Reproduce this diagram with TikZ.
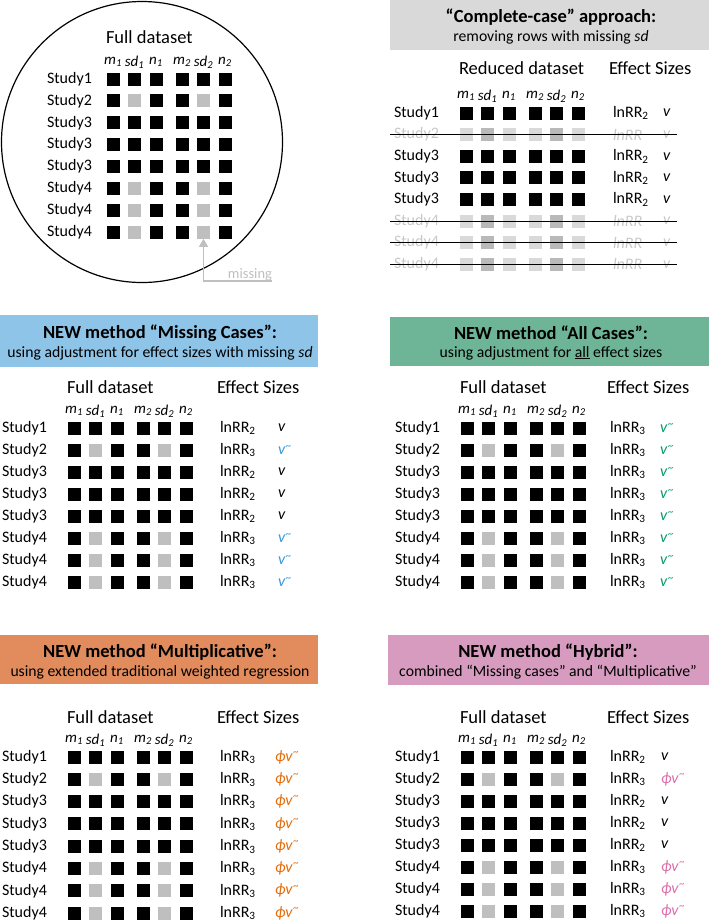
\documentclass[tikz,border=0pt]{standalone}
\usepackage{fontspec}
\setmainfont{Carlito}
\usetikzlibrary{arrows.meta, positioning}

\definecolor{ccgray}{RGB}{217,217,217}
\definecolor{mcblue}{RGB}{142,196,232}
\definecolor{acgreen}{RGB}{110,180,150}
\definecolor{muorange}{RGB}{226,139,93}
\definecolor{hypink}{RGB}{214,155,190}
\definecolor{vblue}{RGB}{52,152,219}
\definecolor{vgreen}{RGB}{0,155,105}
\definecolor{vorange}{RGB}{228,108,10}
\definecolor{vpink}{RGB}{220,110,170}
\definecolor{misgray}{RGB}{191,191,191}
\definecolor{fadelight}{RGB}{217,217,217}
\definecolor{fademid}{RGB}{185,185,185}
\definecolor{fadetext}{RGB}{200,200,200}

\newcommand{\vtil}{\textit{v}\kern0.3pt\raisebox{0.75ex}{\fontsize{11}{11}\selectfont\textasciitilde}}
\newcommand{\phivtil}{\textit{ϕv}\kern0.3pt\raisebox{0.75ex}{\fontsize{11}{11}\selectfont\textasciitilde}}

\begin{document}
\begin{tikzpicture}[x=1pt, y=-1pt,
    every node/.style={inner sep=0pt, outer sep=0pt},
    sqcell/.style={minimum size=13pt, fill=black},
    celln00/.style={sqcell}, celln01/.style={sqcell},
    celln10/.style={sqcell}, celln11/.style={sqcell, fill=misgray},
    cellf00/.style={sqcell}, cellf01/.style={sqcell},
    cellf10/.style={sqcell, fill=fadelight}, cellf11/.style={sqcell, fill=fademid},
    study/.style={anchor=west, font=\fontsize{16}{19}\selectfont},
    studyn0/.style={study}, studyn1/.style={study},
    studyf0/.style={study}, studyf1/.style={study, text=fadetext},
    colhead/.style={font=\fontsize{15}{17}\selectfont\itshape},
    settitle/.style={anchor=west, font=\fontsize{18.5}{21}\selectfont},
    esize/.style={anchor=west, font=\fontsize{16}{19}\selectfont},
    headbox/.style={minimum height=50pt},
    headtitle/.style={font=\fontsize{18.5}{21}\selectfont\bfseries},
    headsub/.style={font=\fontsize{15.7}{18}\selectfont},
    strike/.style={line width=0.9pt},
    misline/.style={draw=misgray, line width=1.5pt, -{Triangle[width=9pt, length=8pt]}}
  ]
  \useasboundingbox (0,0) rectangle (709,922);

  % circle round the full dataset
  \node[circle, draw, line width=1.2pt, minimum size=281pt] (A-ring) at (142,142) {};

  % header boxes
  \node[headbox, fill=ccgray, minimum width=319pt] (B-box) at (549.5,25) {};
  \node[headtitle] (B-title) at (551,17) {“Complete-case” approach:};
  \node[headsub] (B-sub) at (551,37) {removing rows with missing \textit{sd}};

  \node[headbox, fill=mcblue, minimum width=318pt, minimum height=52pt] (C-box) at (159,341) {};
  \node[headtitle] (C-title) at (160,333) {NEW method “Missing Cases”:};
  \node[headsub] (C-sub) at (160,353) {using adjustment for effect sizes with missing \textit{sd}};

  \node[headbox, fill=acgreen, minimum width=319pt, minimum height=49pt] (D-box) at (549.5,341.5) {};
  \node[headtitle] (D-title) at (551,333) {NEW method “All Cases”:};
  \node[headsub] (D-sub) at (551,353) {using adjustment for \underline{all} effect sizes};

  \node[headbox, fill=muorange, minimum width=318pt, minimum height=49pt] (E-box) at (159,659.5) {};
  \node[headtitle] (E-title) at (160,652) {NEW method “Multiplicative”:};
  \node[headsub] (E-sub) at (160,672) {using extended traditional weighted regression};

  \node[headbox, fill=hypink, minimum width=321pt] (F-box) at (548.5,660) {};
  \node[headtitle] (F-title) at (548,652) {NEW method “Hybrid”:};
  \node[headsub] (F-sub) at (548,672) {combined “Missing cases” and “Multiplicative”};

  % datasets: squares, column heads, study labels
  \foreach \p/\x/\y/\dy/\q/\lx/\t/\ty in {A/113/79/21.9/n/47/Full dataset/37,
      B/466/113/21.6/f/394/Reduced dataset/68, C/74/428/22/n/2/Full dataset/387,
      D/467/428/22/n/395/Full dataset/387, E/74/757/22.3/n/2/Full dataset/717,
      F/467/757/22/n/395/Full dataset/717} {
    \node[settitle] (\p-set) at (\x-7,\ty) {\t};
    \foreach \c/\dx/\h in {1/0/m, 2/21.5/sd, 3/43/n, 4/69/m, 5/90.5/sd, 6/112/n} {
      \pgfmathtruncatemacro\g{\c>3 ? 2 : 1}
      \node[colhead] (\p-h\c) at (\x+\dx,\y-17) {\h\textsubscript{\g}};
      \foreach \r in {1,...,8} {
        \pgfmathtruncatemacro\gap{(\r==2 || \r>5)}
        \pgfmathtruncatemacro\sdc{(\c==2 || \c==5)}
        \node[cell\q\gap\sdc] (\p-\r-\c) at (\x+\dx,\y+\dy*\r-\dy) {};
      }
    }
    \foreach \r/\n in {1/1, 2/2, 3/3, 4/3, 5/3, 6/4, 7/4, 8/4} {
      \pgfmathtruncatemacro\gap{(\r==2 || \r>5)}
      \node[study\q\gap] (\p-s\r) at (\lx,\y+\dy*\r-\dy) {Study\n};
    }
  }

  % missing marker
  \node[anchor=south east, font=\fontsize{14.5}{16}\selectfont, text=misgray] (A-miss) at (272,281) {missing};
  \draw[misline] (A-miss.south east) -| (A-8-5.south);

  % effect sizes: complete-case
  \node[settitle] (B-es) at (609,68) {Effect Sizes};
  \foreach \r in {1,3,4,5} {
    \node[esize] (B-e\r) at (613,113+21.6*\r-21.6) {lnRR\textsubscript{2}};
    \node[esize] (B-v\r) at (663,113+21.6*\r-21.6) {\textit{v}};
  }
  \foreach \r in {2,6,7,8} {
    \node[esize, text=fadetext] (B-e\r) at (613,113+21.6*\r-21.6) {\textit{lnRR}};
    \node[esize, text=fadetext] (B-v\r) at (663,113+21.6*\r-21.6) {\textit{v}};
    \draw[strike] ([xshift=-4pt]B-s\r.west) -- ++(287,0);
  }

  % effect sizes: missing cases
  \node[settitle] (C-es) at (217,387) {Effect Sizes};
  \foreach \r in {1,3,4,5} {
    \node[esize] (C-e\r) at (220,428+22*\r-22) {lnRR\textsubscript{2}};
    \node[esize] (C-v\r) at (278,428+22*\r-22) {\textit{v}};
  }
  \foreach \r in {2,6,7,8} {
    \node[esize] (C-e\r) at (220,428+22*\r-22) {lnRR\textsubscript{3}};
    \node[esize, text=vblue] (C-v\r) at (278,428+22*\r-22) {\vtil};
  }

  % effect sizes: all cases
  \node[settitle] (D-es) at (607,387) {Effect Sizes};
  \foreach \r in {1,...,8} {
    \node[esize] (D-e\r) at (610,428+22*\r-22) {lnRR\textsubscript{3}};
    \node[esize, text=vgreen] (D-v\r) at (660,428+22*\r-22) {\vtil};
  }

  % effect sizes: multiplicative
  \node[settitle] (E-es) at (217,717) {Effect Sizes};
  \foreach \r in {1,...,8} {
    \node[esize] (E-e\r) at (220,757+22.3*\r-22.3) {lnRR\textsubscript{3}};
    \node[esize, text=vorange] (E-v\r) at (275,757+22.3*\r-22.3) {\phivtil};
  }

  % effect sizes: hybrid
  \node[settitle] (F-es) at (607,717) {Effect Sizes};
  \foreach \r in {1,3,4,5} {
    \node[esize] (F-e\r) at (610,757+22*\r-22) {lnRR\textsubscript{2}};
    \node[esize] (F-v\r) at (661,757+22*\r-22) {\textit{v}};
  }
  \foreach \r in {2,6,7,8} {
    \node[esize] (F-e\r) at (610,757+22*\r-22) {lnRR\textsubscript{3}};
    \node[esize, text=vpink] (F-v\r) at (661,757+22*\r-22) {\phivtil};
  }
\end{tikzpicture}
\end{document}
